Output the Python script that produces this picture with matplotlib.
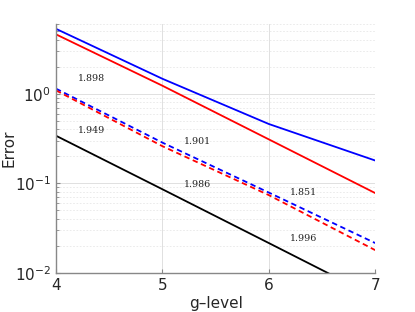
import matplotlib
matplotlib.use("Agg")
import matplotlib.pyplot as plt
from matplotlib.ticker import LogLocator, NullFormatter

levels = [4, 5, 6, 7]
blue_solid = [5.3, 1.47, 0.46, 0.18]
red_solid = [4.6, 1.23, 0.31, 0.078]
blue_dashed = [1.14, 0.285, 0.079, 0.0216]
red_dashed = [1.09, 0.26, 0.074, 0.018]
black_solid = [0.34, 0.086, 0.0216, 0.0054]

rate_labels = ["1.898", "1.949", "1.901", "1.986", "1.851", "1.996"]
rate_x = [4.21, 4.21, 5.2, 5.2, 6.2, 6.2]
rate_y = [1.47, 0.39, 0.29, 0.097, 0.079, 0.0245]

fig = plt.figure(figsize=(4.15, 3.12), dpi=100)
ax = fig.add_axes([0.135, 0.125, 0.769, 0.798])

ax.semilogy(levels, blue_solid, color="#0000ff", lw=1.3)
ax.semilogy(levels, red_solid, color="#ff0000", lw=1.3)
ax.semilogy(levels, blue_dashed, color="#0000ff", lw=1.3, ls=(0, (3, 2)))
ax.semilogy(levels, red_dashed, color="#ff0000", lw=1.3, ls=(0, (3, 2)))
ax.semilogy(levels, black_solid, color="black", lw=1.3)

for t, x, y in zip(rate_labels, rate_x, rate_y):
    ax.text(x, y, t, fontsize=6.8, family="DejaVu Serif", va="center", ha="left", color="#222222")

ax.set_xlim(4, 7)
ax.set_ylim(1e-2, 6)
ax.set_xticks([4, 5, 6, 7])
ax.yaxis.set_major_locator(LogLocator(base=10, numticks=10))
ax.yaxis.set_minor_locator(LogLocator(base=10, subs=range(2, 10), numticks=10))
ax.yaxis.set_minor_formatter(NullFormatter())

ax.grid(True, which="major", color="#e0e0e0", lw=0.7)
ax.grid(True, which="minor", axis="y", color="#e8e8e8", lw=0.6, ls=(0, (2, 2)))
ax.set_axisbelow(True)

for s in ["top", "right"]:
    ax.spines[s].set_visible(False)
for s in ["left", "bottom"]:
    ax.spines[s].set_color("#888888")
    ax.spines[s].set_linewidth(1.0)

ax.tick_params(axis="both", which="both", direction="in", colors="#888888", labelcolor="#262626", labelsize=11)
ax.tick_params(axis="both", which="major", length=3)
ax.tick_params(axis="both", which="minor", length=2)

ax.set_xlabel("g\u2013level", fontsize=11, color="#262626", labelpad=2)
ax.set_ylabel("Error", fontsize=11, color="#262626")
ax.yaxis.set_label_coords(-0.125, 0.5)

fig.savefig("out.png", dpi=100)
